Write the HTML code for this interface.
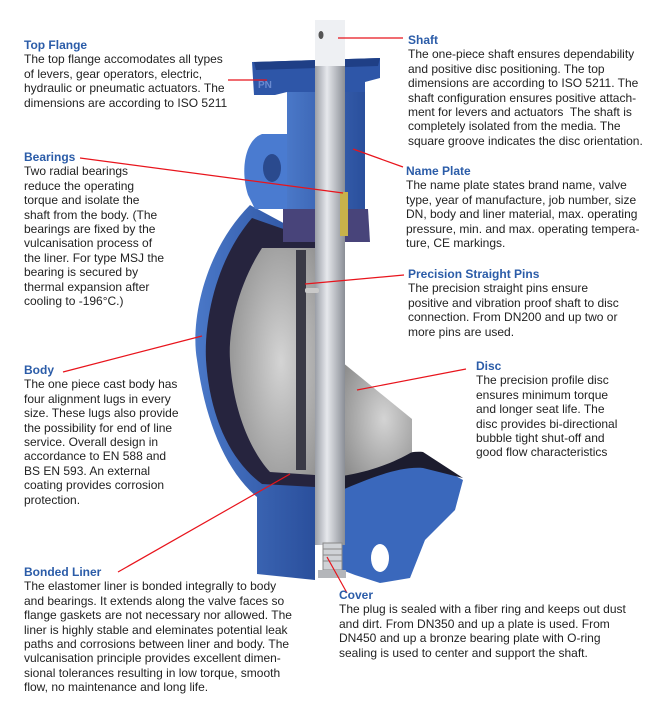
<!DOCTYPE html>
<html><head><meta charset="utf-8"><style>
body{margin:0;background:#fff;}
#c{position:relative;width:650px;height:715px;overflow:hidden;background:#fff;font-family:"Liberation Sans",sans-serif;font-size:12px;line-height:14.4px;color:#222;}
.t{position:absolute;white-space:nowrap;}
.t b{color:#2b5ca8;display:block;}
svg{position:absolute;left:0;top:0;}
</style></head><body><div id="c">
<svg width="650" height="715" viewBox="0 0 650 715">
<defs>
<linearGradient id="sh" x1="0" x2="1"><stop offset="0" stop-color="#9a9ea6"/><stop offset=".4" stop-color="#e6e8ec"/><stop offset="1" stop-color="#8a8e96"/></linearGradient>
<linearGradient id="bl" x1="0" x2="1"><stop offset="0" stop-color="#4a78c8"/><stop offset="1" stop-color="#2a4f9c"/></linearGradient>
<radialGradient id="gr" cx=".6" cy=".5" r=".7"><stop offset="0" stop-color="#d4d4d4"/><stop offset="1" stop-color="#8e8e8e"/></radialGradient>
</defs>
<path d="M250 205 C205 250 190 320 197 360 C205 420 225 470 257 497 L257 574 L315 580 L315 240 Z" fill="url(#bl)"/>
<path d="M252 218 C216 260 204 320 206 360 C210 420 232 462 262 484 L315 487 L315 240 Z" fill="#26243e"/>
<path d="M262 248 C238 285 228 330 230 360 C233 410 250 450 270 472 L315 475 L315 248 Z" fill="url(#gr)"/>
<path d="M296 250 L296 470 L306 470 L306 250 Z" fill="#3a3a46"/>
<path d="M262 134 C245 140 240 170 248 195 L255 209 L292 209 L292 134 Z" fill="#4a7bd0"/>
<ellipse cx="272" cy="168" rx="9" ry="14" fill="#2a4a8e"/>
<path d="M287 88 L365 88 L365 226 L287 226 Z" fill="url(#bl)"/>
<path d="M252 62 L380 58 L380 78 L365 82 L365 92 L287 92 L275 95 L254 95 Z" fill="#2e56a8"/>
<path d="M254 62 L380 58 L378 66 L256 70 Z" fill="#1f3f86"/>
<text x="258" y="88" font-size="10" fill="#6a8ad0" font-weight="bold" font-family="Liberation Sans,sans-serif">PN</text>
<path d="M283 209 L368 209 L370 242 L283 242 Z" fill="#48447a"/>
<path d="M342 483 C375 470 405 455 423 458 L463 480 L455 510 L425 540 L410 578 L380 583 L355 575 L342 570 Z" fill="#3a68bc"/>
<path d="M342 476 C375 462 405 450 423 452 L463 478 L423 468 C400 466 370 478 342 490 Z" fill="#1c1c2e"/>
<ellipse cx="380" cy="558" rx="9" ry="14" fill="#fff"/>
<path d="M342 362 L412 419 L412 452 C395 462 370 472 342 476 Z" fill="url(#gr)"/>
<rect x="315" y="20" width="30" height="525" fill="url(#sh)"/>
<rect x="315" y="20" width="30" height="46" fill="#eef0f3"/>
<ellipse cx="321" cy="35" rx="2.5" ry="4" fill="#555"/>
<rect x="340" y="192" width="8" height="44" fill="#c8b24a"/>
<rect x="305" y="288" width="14" height="5" rx="2" fill="#c9c9c9"/>
<g fill="#cfd2d6" stroke="#888" stroke-width="1">
<rect x="323" y="543" width="19" height="27"/>
<line x1="323" y1="549" x2="342" y2="549"/><line x1="323" y1="555" x2="342" y2="555"/><line x1="323" y1="561" x2="342" y2="561"/></g>
<rect x="318" y="570" width="28" height="8" fill="#b4b6ba"/>
<g stroke="#e8141c" stroke-width="1.2" fill="none">
<line x1="228" y1="80" x2="267" y2="80"/>
<line x1="338" y1="38" x2="403" y2="38"/>
<line x1="80" y1="158" x2="343" y2="193"/>
<line x1="353" y1="149" x2="403" y2="167"/>
<line x1="305" y1="284" x2="404" y2="275"/>
<line x1="63" y1="372" x2="202" y2="336"/>
<line x1="357" y1="390" x2="466" y2="369"/>
<line x1="118" y1="572" x2="290" y2="474"/>
<line x1="327" y1="557" x2="347" y2="593"/>
</g>
</svg>
<div class="t" style="left:24px;top:38px"><b>Top Flange</b>The top flange accomodates all types<br>of levers, gear operators, electric,<br>hydraulic or pneumatic actuators. The<br>dimensions are according to ISO 5211</div>
<div class="t" style="left:408px;top:33px"><b>Shaft</b>The one-piece shaft ensures dependability<br>and positive disc positioning. The top<br>dimensions are according to ISO 5211. The<br>shaft configuration ensures positive attach-<br>ment for levers and actuators&nbsp; The shaft is<br>completely isolated from the media. The<br>square groove indicates the disc orientation.</div>
<div class="t" style="left:24px;top:150px"><b>Bearings</b>Two radial bearings<br>reduce the operating<br>torque and isolate the<br>shaft from the body. (The<br>bearings are fixed by the<br>vulcanisation process of<br>the liner. For type MSJ the<br>bearing is secured by<br>thermal expansion after<br>cooling to -196°C.)</div>
<div class="t" style="left:406px;top:164px"><b>Name Plate</b>The name plate states brand name, valve<br>type, year of manufacture, job number, size<br>DN, body and liner material, max. operating<br>pressure, min. and max. operating tempera-<br>ture, CE markings.</div>
<div class="t" style="left:408px;top:267px"><b>Precision Straight Pins</b>The precision straight pins ensure<br>positive and vibration proof shaft to disc<br>connection. From DN200 and up two or<br>more pins are used.</div>
<div class="t" style="left:24px;top:363px"><b>Body</b>The one piece cast body has<br>four alignment lugs in every<br>size. These lugs also provide<br>the possibility for end of line<br>service. Overall design in<br>accordance to EN 588 and<br>BS EN 593. An external<br>coating provides corrosion<br>protection.</div>
<div class="t" style="left:476px;top:359px"><b>Disc</b>The precision profile disc<br>ensures minimum torque<br>and longer seat life. The<br>disc provides bi-directional<br>bubble tight shut-off and<br>good flow characteristics</div>
<div class="t" style="left:24px;top:565px"><b>Bonded Liner</b>The elastomer liner is bonded integrally to body<br>and bearings. It extends along the valve faces so<br>flange gaskets are not necessary nor allowed. The<br>liner is highly stable and eleminates potential leak<br>paths and corrosions between liner and body. The<br>vulcanisation principle provides excellent dimen-<br>sional tolerances resulting in low torque, smooth<br>flow, no maintenance and long life.</div>
<div class="t" style="left:339px;top:588px"><b>Cover</b>The plug is sealed with a fiber ring and keeps out dust<br>and dirt. From DN350 and up a plate is used. From<br>DN450 and up a bronze bearing plate with O-ring<br>sealing is used to center and support the shaft.</div>
</div></body></html>
